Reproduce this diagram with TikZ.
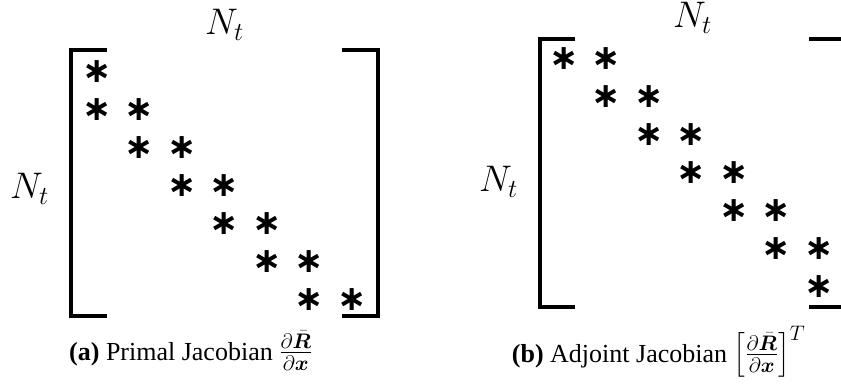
\RequirePackage{fix-cm}
\documentclass[tikz,border=0pt]{standalone}
\usepackage{fontspec}
\usepackage{amsmath,bm}
\setmainfont{Liberation Serif}
\newfontfamily\astfont{DejaVu Sans}
\newcommand{\capmath}[1]{{\fontsize{30}{34}\selectfont$#1$}}
\tikzset{
  ast/.style={inner sep=0pt, font=\fontsize{35}{35}\selectfont\astfont\bfseries},
  lbl/.style={inner sep=0pt, anchor=base west, font=\fontsize{37}{40}\selectfont},
  captext/.style={inner sep=0pt, anchor=base west, font=\fontsize{26}{30}\selectfont},
  brk/.style={line width=4pt, line cap=butt, line join=miter}
}
\begin{document}
\begin{tikzpicture}[x=1pt,y=-1pt]
\useasboundingbox (0,0) rectangle (841,385);
\clip (0,0) rectangle (841,385);
% ---------- (a) primal ----------
\draw[brk] (107,49.7) -- (71,49.7) -- (71,316) -- (107,316);
\draw[brk] (341.7,49.7) -- (377.5,49.7) -- (377.5,316) -- (341.7,316);
\node[lbl] (atop) at (205,35) {$N_t$};
\node[lbl] (aleft) at (10,199) {$N_t$};
\foreach \i in {1,...,7}{
  \pgfmathsetmacro{\yy}{72+(\i-1)*38}
  \pgfmathsetmacro{\xx}{97+(\i-1)*42.5}
  \node[ast] (a\i d) at (\xx,\yy) {∗};
}
\foreach \i in {2,...,7}{
  \pgfmathsetmacro{\yy}{72+(\i-1)*38}
  \pgfmathsetmacro{\xx}{97+(\i-2)*42.5}
  \node[ast] (a\i l) at (\xx,\yy) {∗};
}
\node[captext] (capa) at (69,360) {\textbf{(a)} Primal Jacobian \capmath{\frac{\partial \bar{\bm R}}{\partial \bm x}}};
% ---------- (b) adjoint ----------
\draw[brk] (575,39.5) -- (539.5,39.5) -- (539.5,307) -- (575,307);
\draw[brk] (809.3,39.5) -- (845,39.5) -- (845,307) -- (809.3,307);
\node[lbl] (btop) at (673,28) {$N_t$};
\node[lbl] (bleft) at (479,192) {$N_t$};
\foreach \i in {1,...,7}{
  \pgfmathsetmacro{\yy}{59+(\i-1)*38}
  \pgfmathsetmacro{\xx}{564+(\i-1)*42.5}
  \node[ast] (b\i d) at (\xx,\yy) {∗};
}
\foreach \i in {1,...,6}{
  \pgfmathsetmacro{\yy}{59+(\i-1)*38}
  \pgfmathsetmacro{\xx}{564+\i*42.5}
  \node[ast] (b\i u) at (\xx,\yy) {∗};
}
\node[captext] (capb) at (511.7,362) {\textbf{(b)} Adjoint Jacobian \capmath{\left[\frac{\partial \bar{\bm R}}{\partial \bm x}\right]^T}};
\end{tikzpicture}
\end{document}
